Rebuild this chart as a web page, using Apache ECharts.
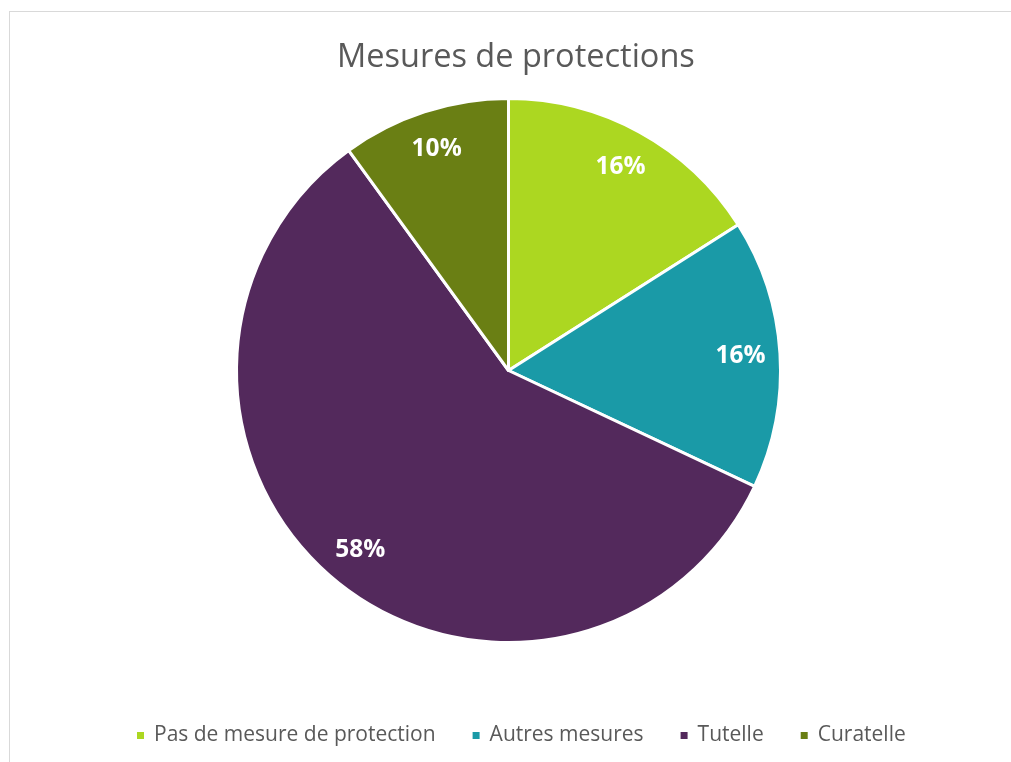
<!DOCTYPE html>
<html>
<head>
<meta charset="utf-8">
<script src="https://cdn.jsdelivr.net/npm/echarts@6/dist/echarts.min.js"></script>
<style>
html,body{margin:0;padding:0;background:#fff;}
#frame{position:absolute;left:9px;top:11px;width:1010px;height:760px;border:1px solid #d9d9d9;box-sizing:border-box;}
#chart{position:absolute;left:0;top:0;width:1011px;height:762px;}
</style>
</head>
<body>
<div id="frame"></div>
<div id="chart"></div>
<script>
const title = 'Mesures de protections';
const categories = ['Pas de mesure de protection', 'Autres mesures', 'Tutelle', 'Curatelle'];
const values = [16, 16, 58, 10];
const colors = ['#acd721', '#1a9aa7', '#53295c', '#6a7f14'];

const data = categories.map((c, i) => ({ name: c, value: values[i], itemStyle: { color: colors[i] } }));
const total = values.reduce((a, b) => a + b, 0);

const chart = echarts.init(document.getElementById('chart'), null, { renderer: 'canvas' });
chart.setOption({
  animation: false,
  title: {
    text: title,
    left: 332,
    top: 36,
    textStyle: { fontFamily: 'Open Sans', fontSize: 32.5, fontWeight: 'normal', color: '#595959' }
  },
  legend: {
    bottom: 11,
    left: 130,
    itemWidth: 9,
    itemHeight: 9,
    itemGap: 35,
    icon: 'rect',
    textStyle: { fontFamily: 'Open Sans', fontSize: 21, color: '#595959', padding: [0, 0, 0, 4] },
    data: categories
  },
  series: [
    {
      type: 'pie',
      center: [508.5, 370.5],
      radius: [0, 272],
      startAngle: 90,
      clockwise: true,
      silent: true,
      label: { show: false },
      labelLine: { show: false },
      itemStyle: { borderColor: '#fff', borderWidth: 3 },
      data: data
    },
    {
      type: 'pie',
      center: [508.5, 370.5],
      radius: [187, 272],
      startAngle: 90,
      clockwise: true,
      silent: true,
      legendHoverLink: false,
      itemStyle: { color: 'transparent', borderWidth: 0 },
      label: {
        show: true,
        position: 'inside',
        formatter: p => Math.round(p.value / total * 100) + '%',
        fontFamily: 'Open Sans',
        fontWeight: 'bold',
        fontSize: 24.5,
        color: '#fff'
      },
      labelLine: { show: false },
      data: categories.map((c, i) => ({ name: c + ' ', value: values[i] }))
    }
  ]
});
</script>
</body>
</html>
